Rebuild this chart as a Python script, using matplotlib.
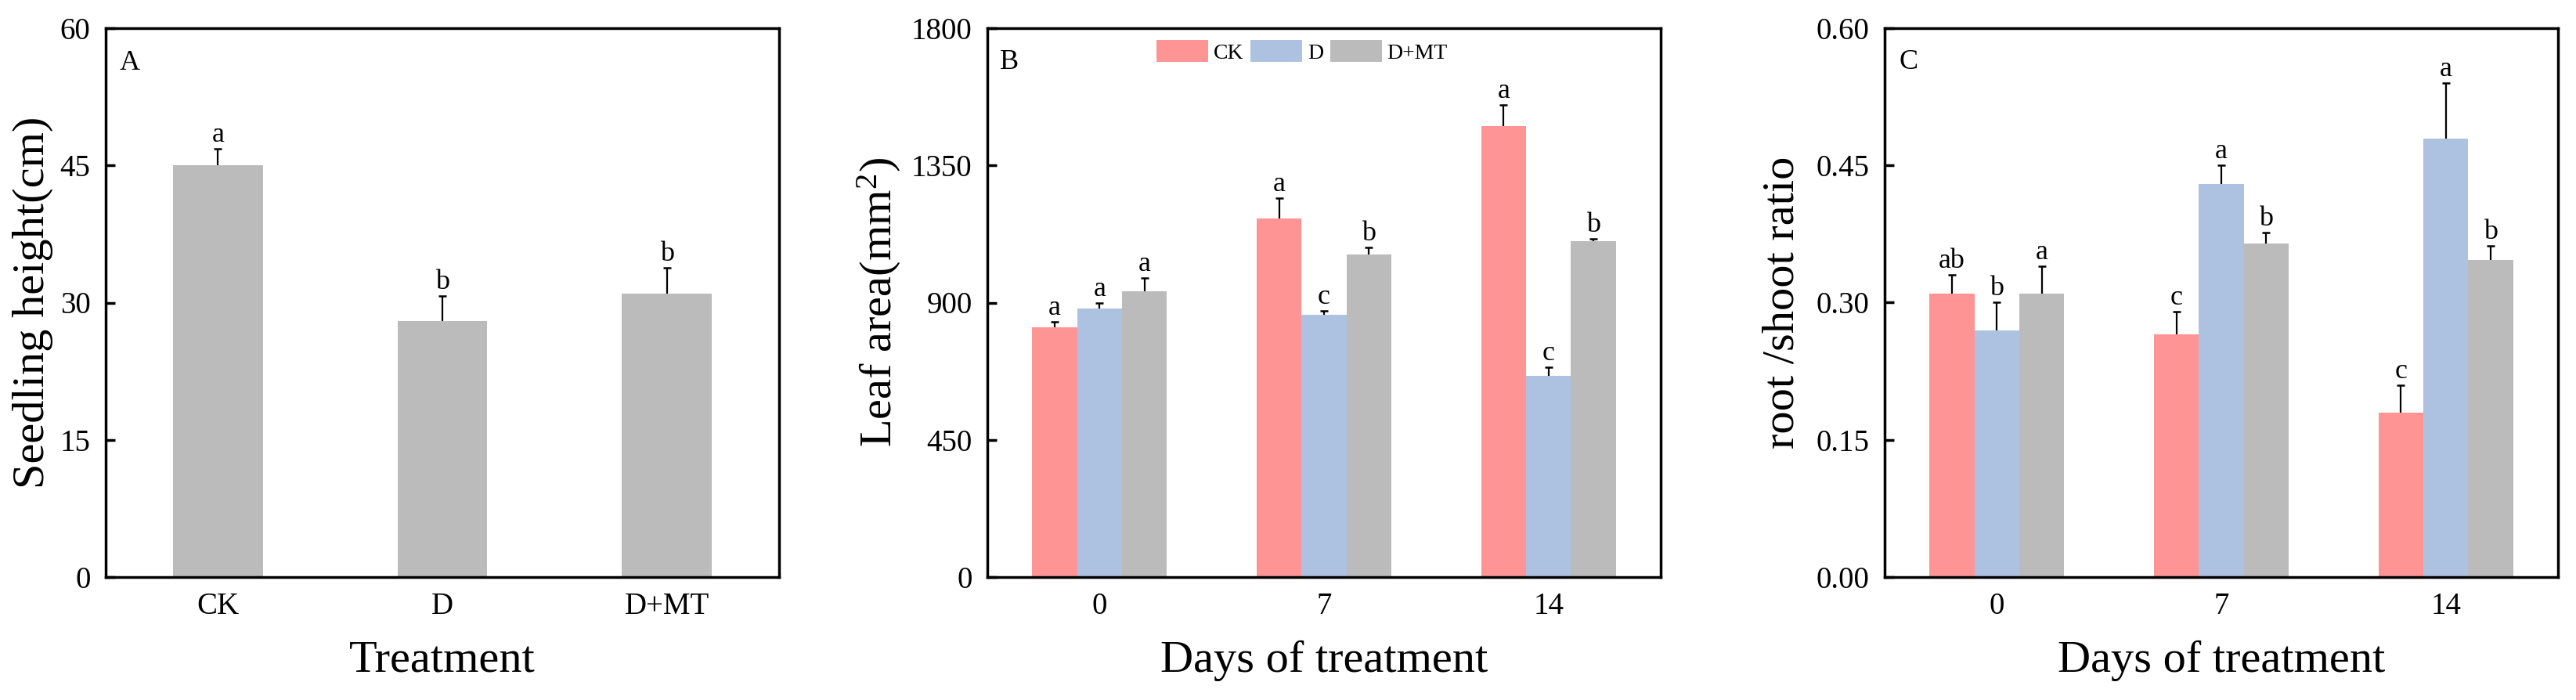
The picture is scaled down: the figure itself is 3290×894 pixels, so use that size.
import numpy as np
import matplotlib
matplotlib.use("Agg")
import matplotlib.pyplot as plt

plt.rcParams['font.family'] = ['Liberation Serif', 'DejaVu Serif']
plt.rcParams['mathtext.fontset'] = 'custom'
plt.rcParams['mathtext.rm'] = 'Liberation Serif'
plt.rcParams['mathtext.it'] = 'Liberation Serif:italic'

# ---------------- data ----------------
treatments = ['CK', 'D', 'D+MT']
days = ['0', '7', '14']

# Panel A: seedling height
height_mean = [45.0, 28.0, 31.0]
height_err = [1.8, 2.7, 2.8]
height_sig = ['a', 'b', 'b']

# Panel B: leaf area (day 0, 7, 14)
leaf_CK = [819, 1177, 1478]
leaf_D = [881, 860, 660]
leaf_DMT = [938, 1058, 1101]
leaf_CK_err = [19, 67, 70]
leaf_D_err = [17, 13, 27]
leaf_DMT_err = [43, 23, 9]
leaf_CK_sig = ['a', 'a', 'a']
leaf_D_sig = ['a', 'c', 'c']
leaf_DMT_sig = ['a', 'b', 'b']

# Panel C: root/shoot ratio
rs_CK = [0.310, 0.265, 0.180]
rs_D = [0.270, 0.430, 0.479]
rs_DMT = [0.310, 0.365, 0.347]
rs_CK_err = [0.020, 0.025, 0.030]
rs_D_err = [0.030, 0.020, 0.061]
rs_DMT_err = [0.030, 0.012, 0.015]
rs_CK_sig = ['ab', 'c', 'c']
rs_D_sig = ['b', 'a', 'a']
rs_DMT_sig = ['a', 'b', 'b']

colors = {'CK': '#FF9494', 'D': '#ADC2E1', 'D+MT': '#BBBBBB'}

# ---------------- figure ----------------
W, H = 3291, 894
DPI = 100
fig = plt.figure(figsize=(W / DPI, H / DPI), dpi=DPI)

ax_bottom = (894 - 737) / H
ax_h = 701 / H
ax_w = 860 / W
axA = fig.add_axes([135 / W, ax_bottom, ax_w, ax_h])
axB = fig.add_axes([1261 / W, ax_bottom, ax_w, ax_h])
axC = fig.add_axes([2407 / W, ax_bottom, ax_w, ax_h])

TICK_FS = 28
LABEL_FS = 42
SIG_FS = 26
PANEL_FS = 26
LW = 2.5


def style_axis(ax):
    for s in ax.spines.values():
        s.set_linewidth(LW)
    ax.tick_params(axis='y', direction='in', length=8.5, width=LW,
                   labelsize=TICK_FS, pad=14, left=True, right=False)
    ax.tick_params(axis='x', length=0, labelsize=TICK_FS, pad=14)


def draw_err(ax, x, vals, errs):
    x = np.asarray(x, dtype=float)
    vals = np.asarray(vals, dtype=float)
    errs = np.asarray(errs, dtype=float)
    ax.errorbar(x, vals, yerr=[np.zeros_like(errs), errs], fmt='none',
                ecolor='black', elinewidth=1.6, capsize=0, zorder=3)
    ax.plot(x, vals + errs, linestyle='none', marker='_', markersize=7.5,
            markeredgewidth=1.8, color='black', zorder=3)


def draw_sig(ax, x, vals, errs, sigs):
    for xi, v, e, s in zip(x, vals, errs, sigs):
        ax.annotate(s, (xi, v + e), xytext=(0, 6.5), textcoords='offset points',
                    ha='center', va='baseline', fontsize=SIG_FS)


# ---------- Panel A ----------
xA = np.arange(len(treatments))
axA.bar(xA, height_mean, width=0.4, color=colors['D+MT'], edgecolor='none', zorder=2)
draw_err(axA, xA, height_mean, height_err)
draw_sig(axA, xA, height_mean, height_err, height_sig)
axA.set_xlim(-0.5, 2.5)
axA.set_ylim(0, 60)
axA.set_yticks([0, 15, 30, 45, 60])
axA.set_xticks(xA)
axA.set_xticklabels(treatments)
axA.set_ylabel('Seedling height(cm)', fontsize=LABEL_FS)
axA.set_xlabel('Treatment', fontsize=LABEL_FS)
style_axis(axA)
axA.text(0.021, 0.9244, 'A', transform=axA.transAxes, fontsize=PANEL_FS,
         ha='left', va='baseline')
axA.yaxis.set_label_coords(-0.078, 0.5)
axA.xaxis.set_label_coords(0.5, -0.1155)

# ---------- Panel B and C ----------
xg = np.arange(len(days))
bw = 0.2


def grouped(ax, series, errs, sigs, ylim, yticks, fmt):
    names = ['CK', 'D', 'D+MT']
    offs = [-bw, 0, bw]
    for name, vals, e, s, o in zip(names, series, errs, sigs, offs):
        ax.bar(xg + o, vals, width=bw, color=colors[name], edgecolor='none',
               label=name, zorder=2)
        draw_err(ax, xg + o, vals, e)
        draw_sig(ax, xg + o, vals, e, s)
    ax.set_xlim(-0.5, 2.5)
    ax.set_ylim(*ylim)
    ax.set_yticks(yticks)
    if fmt:
        ax.set_yticklabels([fmt.format(t) for t in yticks])
    ax.set_xticks(xg)
    ax.set_xticklabels(days)
    style_axis(ax)


grouped(axB, [leaf_CK, leaf_D, leaf_DMT], [leaf_CK_err, leaf_D_err, leaf_DMT_err],
        [leaf_CK_sig, leaf_D_sig, leaf_DMT_sig], (0, 1800),
        [0, 450, 900, 1350, 1800], None)
axB.set_ylabel('Leaf area(mm$^{2}$)', fontsize=LABEL_FS)
axB.set_xlabel('Days of treatment', fontsize=LABEL_FS)
axB.text(0.0186, 0.926, 'B', transform=axB.transAxes, fontsize=PANEL_FS,
         ha='left', va='baseline')
axB.yaxis.set_label_coords(-0.126, 0.5)
axB.xaxis.set_label_coords(0.5, -0.1155)
axB.legend(loc='upper left', bbox_to_anchor=(0.251, 0.9786), ncol=3,
           frameon=False, fontsize=20, handlelength=2.37, handleheight=1.19,
           handletextpad=0.25, columnspacing=0.32, borderpad=0, borderaxespad=0)

grouped(axC, [rs_CK, rs_D, rs_DMT], [rs_CK_err, rs_D_err, rs_DMT_err],
        [rs_CK_sig, rs_D_sig, rs_DMT_sig], (0, 0.6),
        [0.0, 0.15, 0.30, 0.45, 0.60], '{:.2f}')
axC.set_ylabel('root /shoot ratio', fontsize=LABEL_FS)
axC.set_xlabel('Days of treatment', fontsize=LABEL_FS)
axC.text(0.021, 0.926, 'C', transform=axC.transAxes, fontsize=PANEL_FS,
         ha='left', va='baseline')
axC.yaxis.set_label_coords(-0.122, 0.5)
axC.xaxis.set_label_coords(0.5, -0.1155)

fig.savefig('out.png', dpi=DPI, facecolor='white')
